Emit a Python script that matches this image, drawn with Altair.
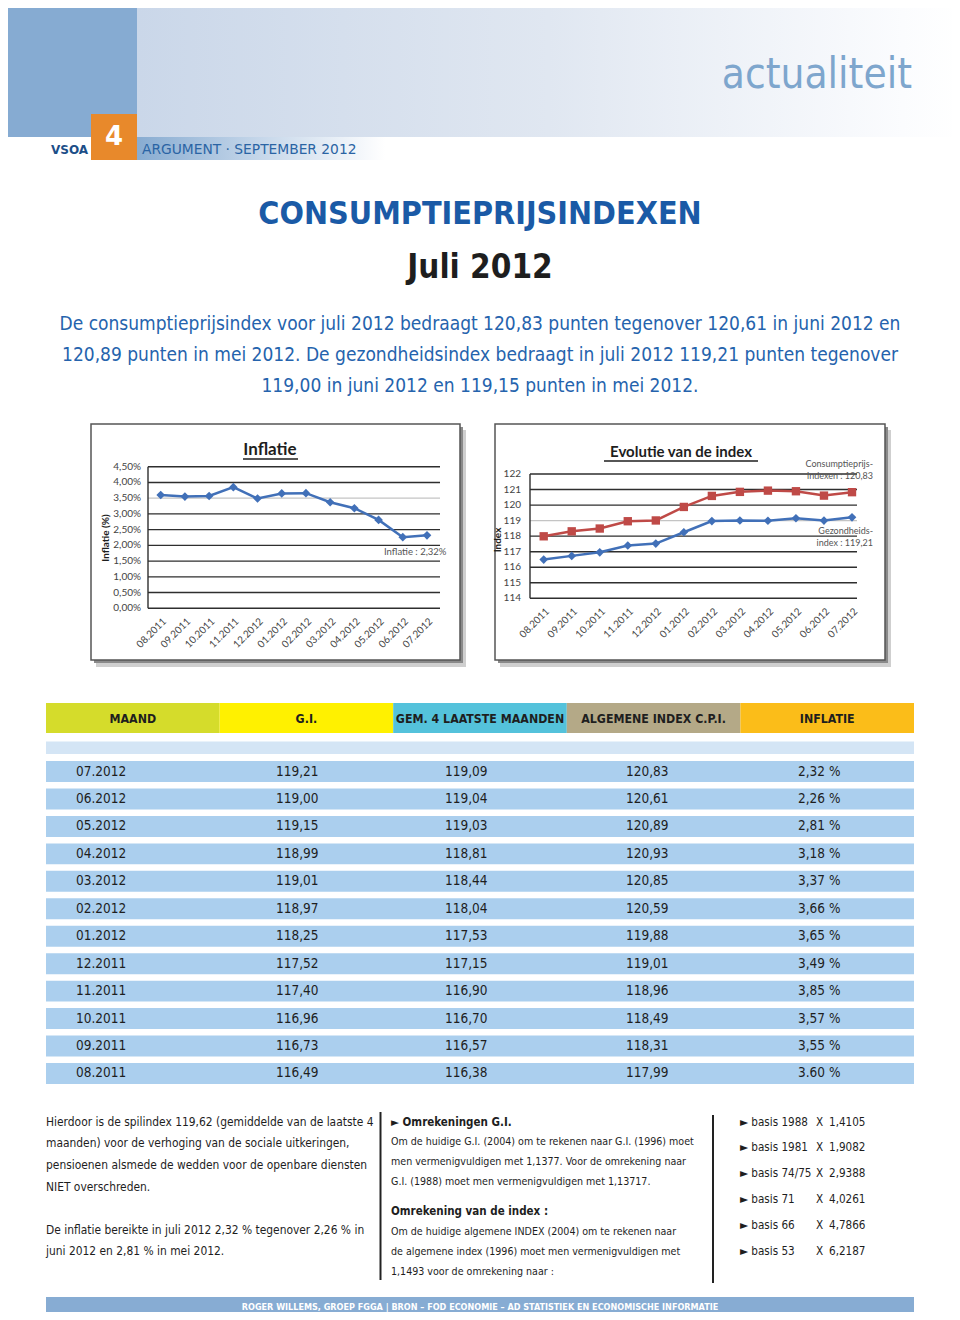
import altair as alt
import pandas as pd

# ---------------- data ----------------
chart_months = ["08.2011", "09.2011", "10.2011", "11.2011", "12.2012", "01.2012",
                "02.2012", "03.2012", "04.2012", "05.2012", "06.2012", "07.2012"]
inflation_pct = [3.60, 3.55, 3.57, 3.85, 3.49, 3.65, 3.66, 3.37, 3.18, 2.81, 2.26, 2.32]
cpi_index = [117.99, 118.31, 118.49, 118.96, 119.01, 119.88, 120.59, 120.85, 120.93, 120.89, 120.61, 120.83]
health_index = [116.49, 116.73, 116.96, 117.40, 117.52, 118.25, 118.97, 119.01, 118.99, 119.15, 119.00, 119.21]
infl_ticks = [0.0, 0.5, 1.0, 1.5, 2.0, 2.5, 3.0, 3.5, 4.0, 4.5]
infl_tick_labels = ["0,00%", "0,50%", "1,00%", "1,50%", "2,00%", "2,50%", "3,00%", "3,50%", "4,00%", "4,50%"]
index_ticks = [114, 115, 116, 117, 118, 119, 120, 121, 122]

table_headers = ["MAAND", "G.I.", "GEM. 4 LAATSTE MAANDEN", "ALGEMENE INDEX  C.P.I.", "INFLATIE"]
table_months = ["07.2012", "06.2012", "05.2012", "04.2012", "03.2012", "02.2012",
                "01.2012", "12.2011", "11.2011", "10.2011", "09.2011", "08.2011"]
table_gi = ["119,21", "119,00", "119,15", "118,99", "119,01", "118,97",
            "118,25", "117,52", "117,40", "116,96", "116,73", "116,49"]
table_gem4 = ["119,09", "119,04", "119,03", "118,81", "118,44", "118,04",
              "117,53", "117,15", "116,90", "116,70", "116,57", "116,38"]
table_cpi = ["120,83", "120,61", "120,89", "120,93", "120,85", "120,59",
             "119,88", "119,01", "118,96", "118,49", "118,31", "117,99"]
table_inflation = ["2,32 %", "2,26 %", "2,81 %", "3,18 %", "3,37 %", "3,66 %",
                   "3,65 %", "3,49 %", "3,85 %", "3,57 %", "3,55 %", "3.60 %"]

intro_lines = [
    "De consumptieprijsindex voor juli 2012 bedraagt 120,83 punten tegenover 120,61 in juni 2012 en",
    "120,89 punten in mei 2012. De gezondheidsindex bedraagt in juli 2012 119,21 punten tegenover",
    "119,00 in juni 2012 en 119,15 punten in mei 2012.",
]
col1_lines_a = [
    "Hierdoor is de spilindex 119,62 (gemiddelde van de laatste 4",
    "maanden) voor de verhoging van de sociale uitkeringen,",
    "pensioenen alsmede de wedden voor de openbare diensten",
    "NIET overschreden.",
]
col1_lines_b = [
    "De inflatie bereikte in juli 2012 2,32 % tegenover 2,26 % in",
    "juni 2012 en 2,81 % in mei 2012.",
]
col2_head1 = "\u25BA Omrekeningen G.I."
col2_body1 = [
    "Om de huidige G.I. (2004) om te rekenen naar G.I. (1996) moet",
    "men vermenigvuldigen met 1,1377. Voor de omrekening naar",
    "G.I. (1988) moet men vermenigvuldigen met 1,13717.",
]
col2_head2 = "Omrekening van de index :"
col2_body2 = [
    "Om de huidige algemene INDEX (2004) om te rekenen naar",
    "de algemene index (1996) moet men vermenigvuldigen met",
    "1,1493 voor de omrekening naar :",
]
basis_labels = ["\u25BA basis 1988", "\u25BA basis 1981", "\u25BA basis 74/75",
                "\u25BA basis 71", "\u25BA basis 66", "\u25BA basis 53"]
basis_factors = ["1,4105", "1,9082", "2,9388", "4,0261", "4,7866", "6,2187"]
footer_text = "ROGER WILLEMS, GROEP FGGA | BRON \u2013 FOD ECONOMIE \u2013 AD STATISTIEK EN ECONOMISCHE INFORMATIE"

# ---------------- style ----------------
NARROW = "'Liberation Sans Narrow', 'DejaVu Sans Condensed', 'Roboto Condensed', 'Liberation Sans', sans-serif"
CHARTF = "Lato, 'Open Sans', sans-serif"
BLUE = "#4170b8"
RED = "#bf4a47"
header_colors = ["#d5dc2b", "#fff100", "#54c2db", "#b4a987", "#fbbd19"]

ONE = pd.DataFrame({"k": [0]})


def P(v):
    return v - 8


def box(x1, y1, x2, y2, **mk):
    return alt.Chart(ONE).mark_rect(**mk).encode(
        x=alt.value(P(x1)), x2=alt.value(P(x2)), y=alt.value(P(y1)), y2=alt.value(P(y2)))


def label(txt, x, y, size, color="#1e1e1e", font=NARROW, weight="normal", align="left",
          baseline="alphabetic", angle=0, line_height=None):
    mk = dict(text=txt, fontSize=size, color=color, font=font, fontWeight=weight,
              align=align, baseline=baseline)
    if angle:
        mk["angle"] = angle
    if line_height:
        mk["lineHeight"] = line_height
    return alt.Chart(ONE).mark_text(**mk).encode(x=alt.value(P(x)), y=alt.value(P(y)))


def hline(x1, x2, y, color, width):
    return alt.Chart(ONE).mark_rule(color=color, strokeWidth=width).encode(
        x=alt.value(P(x1)), x2=alt.value(P(x2)), y=alt.value(P(y)))


def vline(x, y1, y2, color, width):
    return alt.Chart(ONE).mark_rule(color=color, strokeWidth=width).encode(
        x=alt.value(P(x)), y=alt.value(P(y1)), y2=alt.value(P(y2)))


def grad(stops):
    return alt.LinearGradient(
        gradient="linear", x1=0, x2=1, y1=0, y2=0,
        stops=[alt.GradientStop(color=c, offset=o) for o, c in stops])


L = []

# ---------------- page header ----------------
L.append(box(137, 0, 960, 137, color=grad([(0, "#cad7e9"), (0.5, "#e0e7f1"), (0.93, "#fbfcfe"), (1, "#ffffff")])))
L.append(box(0, 0, 137, 137, color="#86abd2"))
L.append(box(137, 137, 385, 160, color=grad([(0, "#88acd1"), (0.5, "#c6d7ea"), (1, "#ffffff")])))
L.append(box(91, 114, 137, 160, color="#e8892b"))
L.append(label("4", 114, 137, 26, color="white", font="'DejaVu Sans', sans-serif", weight="bold",
               align="center", baseline="middle"))
L.append(label("VSOA", 51, 154, 12, color="#1c4e88", font="'DejaVu Sans', sans-serif", weight="bold"))
L.append(label("ARGUMENT \u00B7 SEPTEMBER 2012", 142, 154, 13.8, color="#2a64a4",
               font="'DejaVu Sans', sans-serif"))
L.append(label("actualiteit", 912, 88, 42, color="#7ea6cd", align="right"))

# ---------------- title + intro ----------------
L.append(label("CONSUMPTIEPRIJSINDEXEN", 480, 224, 32, color="#1a5aa6", weight="bold", align="center"))
L.append(label("Juli 2012", 480, 278, 33, color="#1e1e1e", weight="bold", align="center"))
L.append(label(intro_lines, 480, 330, 19, color="#2563ad", align="center", line_height=31))

# ---------------- chart frames ----------------
for (x1, y1, x2, y2) in [(91, 424, 460, 660), (495, 424, 885, 660)]:
    L.append(box(x1 + 5, y1 + 6, x2 + 6, y2 + 7, color="#cfcfcf"))
    L.append(box(x1 + 3, y1 + 3, x2 + 3, y2 + 3, color="#8a8a8a"))
    L.append(box(x1, y1, x2, y2, color="white", stroke="#555555", strokeWidth=1.5))

# ---------------- chart 1: Inflatie ----------------
df_infl = pd.DataFrame({"month": chart_months, "value": inflation_pct})
df_infl_ticks = pd.DataFrame({"v": infl_ticks, "lab": infl_tick_labels})
X1 = alt.Scale(type="point", domain=chart_months, range=[P(160.7), P(427)], padding=0)
Y1 = alt.Scale(domain=[0, 4.5], range=[P(608.3), P(466.7)], nice=False, zero=False)

L.append(alt.Chart(df_infl_ticks).mark_rule(strokeWidth=1.4).encode(
    y=alt.Y("v:Q", scale=Y1, axis=None), x=alt.value(P(148)), x2=alt.value(P(440)),
    color=alt.condition(alt.datum.v == 3.5, alt.value("#c4c4c4"), alt.value("#2e2e2e"))))
L.append(vline(148, 466.7, 608.3, "#2e2e2e", 1.4))
L.append(alt.Chart(df_infl_ticks).mark_text(align="right", baseline="middle", fontSize=10,
                                             font=CHARTF, color="#444").encode(
    y=alt.Y("v:Q", scale=Y1, axis=None), x=alt.value(P(141)), text="lab:N"))
L.append(alt.Chart(df_infl).mark_line(color=BLUE, strokeWidth=2.5).encode(
    x=alt.X("month:N", scale=X1, axis=None), y=alt.Y("value:Q", scale=Y1, axis=None)))
L.append(alt.Chart(df_infl).mark_point(shape="diamond", filled=True, size=75, color=BLUE, opacity=1).encode(
    x=alt.X("month:N", scale=X1, axis=None), y=alt.Y("value:Q", scale=Y1, axis=None)))
L.append(alt.Chart(df_infl).mark_text(angle=315, align="right", baseline="middle", fontSize=10,
                                      font=CHARTF, color="#444", xOffset=4).encode(
    x=alt.X("month:N", scale=X1, axis=None), y=alt.value(P(620)), text="month:N"))
L.append(label("Inflatie", 270, 455, 17, color="#1e1e1e", font=CHARTF, weight="bold", align="center"))
L.append(hline(243, 298, 459, "#1e1e1e", 1.3))
L.append(label("Inflatie (%)", 106, 538, 10, color="#1e1e1e", font=CHARTF, weight="bold",
               align="center", baseline="middle", angle=270))
L.append(label("Inflatie : 2,32%", 384, 552, 9.5, color="#555", font=CHARTF, baseline="middle"))

# ---------------- chart 2: Evolutie van de index ----------------
df_idx = pd.DataFrame({"month": chart_months, "cpi": cpi_index, "gi": health_index})
df_idx_ticks = pd.DataFrame({"v": index_ticks})
X2 = alt.Scale(type="point", domain=chart_months, range=[P(543.7), P(852)], padding=0)
Y2 = alt.Scale(domain=[114, 122], range=[P(598.3), P(474)], nice=False, zero=False)

L.append(alt.Chart(df_idx_ticks).mark_rule(strokeWidth=1.4).encode(
    y=alt.Y("v:Q", scale=Y2, axis=None), x=alt.value(P(530)), x2=alt.value(P(857)),
    color=alt.condition(alt.datum.v == 119, alt.value("#c4c4c4"), alt.value("#2e2e2e"))))
L.append(vline(530, 474, 598.3, "#2e2e2e", 1.4))
L.append(alt.Chart(df_idx_ticks).mark_text(align="right", baseline="middle", fontSize=10,
                                            font=CHARTF, color="#444").encode(
    y=alt.Y("v:Q", scale=Y2, axis=None), x=alt.value(P(521)), text="v:Q"))
for field, color, shape, size in [("cpi", RED, "square", 70), ("gi", BLUE, "diamond", 75)]:
    L.append(alt.Chart(df_idx).mark_line(color=color, strokeWidth=2.5).encode(
        x=alt.X("month:N", scale=X2, axis=None), y=alt.Y(f"{field}:Q", scale=Y2, axis=None)))
    L.append(alt.Chart(df_idx).mark_point(shape=shape, filled=True, size=size, color=color, opacity=1).encode(
        x=alt.X("month:N", scale=X2, axis=None), y=alt.Y(f"{field}:Q", scale=Y2, axis=None)))
L.append(alt.Chart(df_idx).mark_text(angle=315, align="right", baseline="middle", fontSize=10,
                                     font=CHARTF, color="#444", xOffset=4).encode(
    x=alt.X("month:N", scale=X2, axis=None), y=alt.value(P(610)), text="month:N"))
L.append(label("Evolutie van de index", 681, 457, 15, color="#1e1e1e", font=CHARTF, weight="bold",
               align="center"))
L.append(hline(604, 758, 461, "#1e1e1e", 1.3))
L.append(label("Index", 498, 540, 10, color="#1e1e1e", font=CHARTF, weight="bold",
               align="center", baseline="middle", angle=270))
L.append(label(["Consumptieprijs-", "indexen : 120,83"], 873, 467, 9, color="#555", font=CHARTF,
               align="right", line_height=11.5))
L.append(label(["Gezondheids-", "index  : 119,21"], 873, 533.5, 9, color="#555", font=CHARTF,
               align="right", line_height=12.5))

# ---------------- table ----------------
df_head = pd.DataFrame({"col": table_headers})
XC = alt.Scale(type="band", domain=table_headers, range=[P(46), P(914)], paddingInner=0, paddingOuter=0)
L.append(alt.Chart(df_head).mark_rect().encode(
    x=alt.X("col:N", scale=XC, axis=None), y=alt.value(P(703)), y2=alt.value(P(733)),
    color=alt.Color("col:N", scale=alt.Scale(domain=table_headers, range=header_colors), legend=None)))
L.append(alt.Chart(df_head).mark_text(baseline="middle", align="center", fontSize=12.3, font=NARROW,
                                      fontWeight="bold", color="#1e1e1e").encode(
    x=alt.X("col:N", scale=XC, axis=None), y=alt.value(P(718.5)), text="col:N"))
L.append(box(46, 741.5, 914, 754, color="#d4e5f5"))

df_tab = pd.DataFrame({"maand": table_months, "gi": table_gi, "gem": table_gem4,
                       "cpi": table_cpi, "infl": table_inflation})
YR = alt.Scale(type="band", domain=table_months, range=[P(757.8), P(1087.2)],
               paddingInner=0.235, paddingOuter=0.1175)
L.append(alt.Chart(df_tab).mark_rect(color="#abcfee").encode(
    y=alt.Y("maand:N", scale=YR, axis=None), x=alt.value(P(46)), x2=alt.value(P(914))))
for field, xpos in [("maand", 76), ("gi", 276), ("gem", 445), ("cpi", 626), ("infl", 798)]:
    L.append(alt.Chart(df_tab).mark_text(align="left", baseline="middle", fontSize=13.5, font=NARROW,
                                         color="#1e1e1e").encode(
        y=alt.Y("maand:N", scale=YR, axis=None), x=alt.value(P(xpos)), text=f"{field}:N"))

# ---------------- bottom text ----------------
L.append(label(col1_lines_a, 46, 1125.5, 11.9, line_height=21.8))
L.append(label(col1_lines_b, 46, 1233.5, 11.9, line_height=21.8))
L.append(vline(380.5, 1112, 1280, "#222", 2))
L.append(vline(713, 1115, 1283, "#222", 2))
L.append(label(col2_head1, 391, 1125.5, 11.5, weight="bold"))
L.append(label(col2_body1, 391, 1145, 10.6, line_height=20))
L.append(label(col2_head2, 391, 1214.5, 11.5, weight="bold"))
L.append(label(col2_body2, 391, 1235, 10.6, line_height=20))
L.append(label(basis_labels, 740, 1125.5, 11.6, line_height=25.8))
L.append(label(["X"] * len(basis_factors), 816, 1125.5, 11.6, line_height=25.8))
L.append(label(basis_factors, 829, 1125.5, 11.6, line_height=25.8))

# ---------------- footer ----------------
L.append(box(46, 1297, 914, 1316, color="#87acd3"))
L.append(label(footer_text, 480, 1306.5, 9, color="white", weight="bold", align="center",
               baseline="middle"))

chart = alt.layer(*L).resolve_scale(
    x="independent", y="independent", color="independent"
).properties(
    width=944, height=1304, padding=0,
    autosize=alt.AutoSizeParams(type="none"), background="white"
).configure_view(stroke=None)

chart.save("out.html", embed_options={"renderer": "svg", "actions": False})
